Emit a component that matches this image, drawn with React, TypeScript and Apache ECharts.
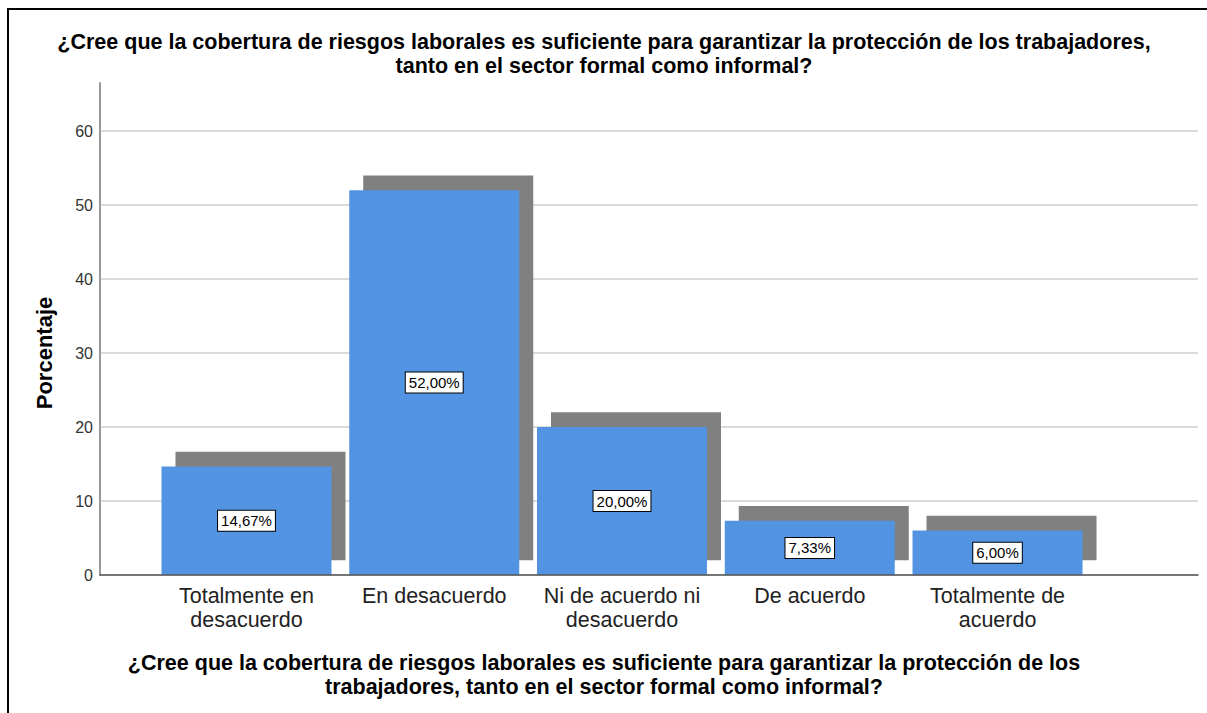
import React, { useEffect, useRef } from "react";
import * as echarts from "echarts";

const categories = [
  "Totalmente en\ndesacuerdo",
  "En desacuerdo",
  "Ni de acuerdo ni\ndesacuerdo",
  "De acuerdo",
  "Totalmente de\nacuerdo",
];
const percentages = [14.67, 52.0, 20.0, 7.33, 6.0];
const yTicks = { min: 0, max: 60, interval: 10 };
const titleLines = [
  "¿Cree que la cobertura de riesgos laborales es suficiente para garantizar la protección de los trabajadores,",
  "tanto en el sector formal como informal?",
];
const xAxisTitleLines = [
  "¿Cree que la cobertura de riesgos laborales es suficiente para garantizar la protección de los",
  "trabajadores, tanto en el sector formal como informal?",
];
const yAxisTitle = "Porcentaje";

const FONT = "'Liberation Sans', Arial, sans-serif";

export default function App() {
  const ref = useRef<HTMLDivElement>(null);
  useEffect(() => {
    if (!ref.current) return;
    const chart = echarts.init(ref.current, undefined, { renderer: "svg" });
    const hiddenAxis = { show: false };
    const textLine = (text: string, y: number) => ({
      type: "text",
      x: 604,
      y,
      style: {
        text,
        align: "center",
        verticalAlign: "middle",
        fontFamily: FONT,
        fontSize: 21.5,
        lineHeight: 24,
        fontWeight: "bold",
        fill: "#000",
      },
    });
    chart.setOption({
      animation: false,
      backgroundColor: "#ffffff",
      textStyle: { fontFamily: FONT },
      graphic: [
        {
          type: "rect",
          shape: { x: 8, y: 9, width: 1400, height: 900 },
          style: { fill: "none", stroke: "#000", lineWidth: 2 },
          silent: true,
          z: 100,
        },
        textLine(titleLines[0], 42),
        textLine(titleLines[1], 66),
        textLine(xAxisTitleLines[0], 663),
        textLine(xAxisTitleLines[1], 687),
      ],
      grid: [
        { left: 100, right: 9, top: 131, bottom: 138 },
        { left: 100, right: 9, top: 83, bottom: 138 },
        { left: 152.6, right: 115.6, top: 131, bottom: 138 },
        { left: 166.6, right: 101.6, top: 116.2, bottom: 152.8 },
      ],
      xAxis: [
        {
          gridIndex: 0,
          type: "value",
          min: 0,
          max: 1,
          axisLine: { show: true, lineStyle: { color: "#555", width: 1.5 } },
          axisTick: { show: false },
          axisLabel: { show: false },
          splitLine: { show: false },
          z: 5,
        },
        { gridIndex: 1, type: "value", ...hiddenAxis },
        {
          gridIndex: 2,
          type: "category",
          data: categories,
          axisLine: { show: false },
          axisTick: { show: false },
          axisLabel: {
            fontFamily: FONT,
            fontSize: 21.5,
            lineHeight: 24,
            color: "#222",
            margin: 9,
            interval: 0,
            align: "center",
          },
        },
        { gridIndex: 3, type: "category", data: categories, ...hiddenAxis },
      ],
      yAxis: [
        {
          gridIndex: 0,
          type: "value",
          min: yTicks.min,
          max: yTicks.max,
          interval: yTicks.interval,
          axisLine: { show: false },
          axisTick: { show: false },
          axisLabel: {
            fontFamily: FONT,
            fontSize: 16,
            color: "#333",
            margin: 7,
          },
          splitLine: { show: true, lineStyle: { color: "#cfcfcf", width: 1.5 } },
          name: yAxisTitle,
          nameLocation: "middle",
          nameRotate: 90,
          nameGap: 45,
          nameTextStyle: {
            fontFamily: FONT,
            fontSize: 22,
            fontWeight: "bold",
            color: "#000",
          },
        },
        {
          gridIndex: 1,
          type: "value",
          min: 0,
          max: 1,
          axisLine: { show: true, lineStyle: { color: "#999", width: 2 } },
          axisTick: { show: false },
          axisLabel: { show: false },
          splitLine: { show: false },
        },
        { gridIndex: 2, type: "value", min: yTicks.min, max: yTicks.max, ...hiddenAxis },
        { gridIndex: 3, type: "value", min: yTicks.min, max: yTicks.max, ...hiddenAxis },
      ],
      series: [
        {
          type: "bar",
          name: "shadow",
          xAxisIndex: 3,
          yAxisIndex: 3,
          data: percentages,
          barWidth: 170,
          itemStyle: { color: "#808080" },
          z: 1,
          silent: true,
        },
        {
          type: "bar",
          name: "Porcentaje",
          xAxisIndex: 2,
          yAxisIndex: 2,
          data: percentages,
          barWidth: 170,
          itemStyle: { color: "#5294E2" },
          z: 2,
          label: {
            show: true,
            position: "inside",
            formatter: (p: any) => p.value.toFixed(2).replace(".", ",") + "%",
            fontFamily: FONT,
            fontSize: 15,
            color: "#000",
            backgroundColor: "#fff",
            borderColor: "#000",
            borderWidth: 1,
            padding: [3, 3, 2, 3],
          },
        },
      ],
    });
    return () => chart.dispose();
  }, []);
  return (
    <div
      ref={ref}
      style={{ position: "fixed", left: 0, top: 0, width: 1207, height: 713 }}
    />
  );
}
